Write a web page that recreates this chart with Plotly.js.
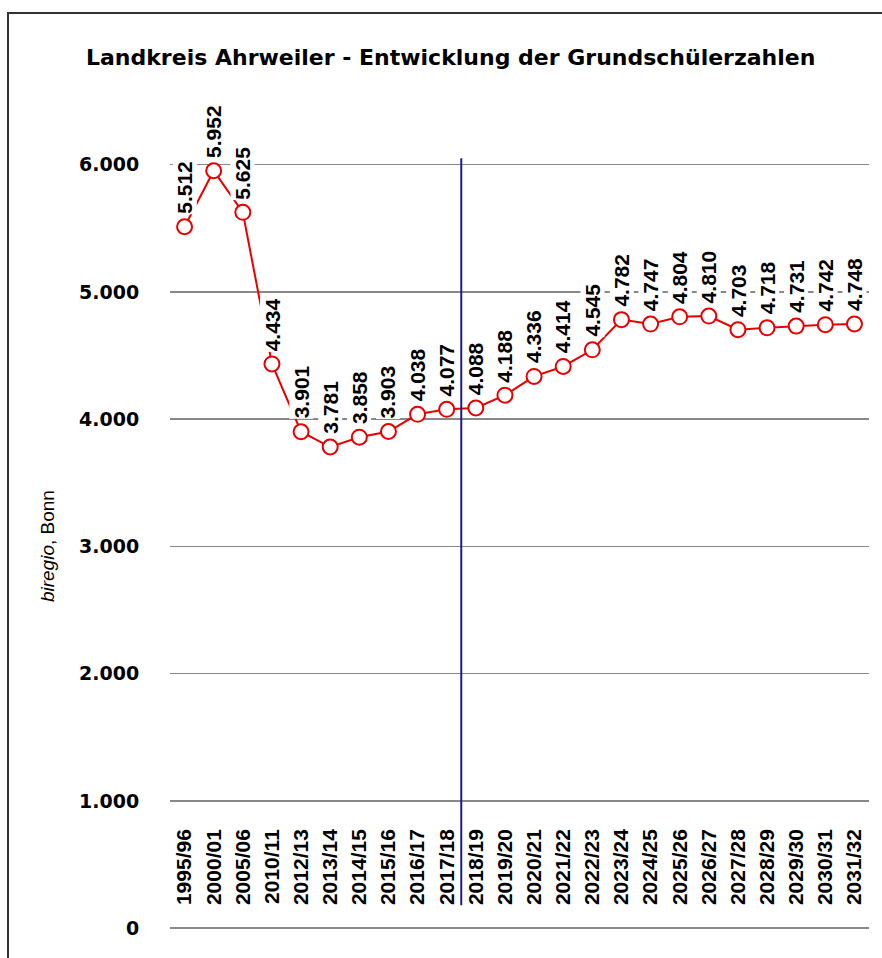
<!DOCTYPE html>
<html>
<head>
<meta charset="utf-8">
<script src="https://cdn.plot.ly/plotly-3.0.1.min.js"></script>
<style>
  html, body { margin: 0; padding: 0; background: #fff; overflow: hidden; }
  #wrap { position: relative; width: 882px; height: 958px; overflow: hidden; }
  #chart { position: absolute; left: 0; top: 0; width: 882px; height: 958px; }
  #frame { position: absolute; left: 7px; top: 12px; width: 1000px; height: 1000px;
           border: 2px solid #333; pointer-events: none; }
</style>
</head>
<body>
<div id="wrap">
  <div id="chart"></div>
  <div id="frame"></div>
</div>
<script>
const categories = ["1995/96","2000/01","2005/06","2010/11","2012/13","2013/14","2014/15","2015/16",
  "2016/17","2017/18","2018/19","2019/20","2020/21","2021/22","2022/23","2023/24","2024/25",
  "2025/26","2026/27","2027/28","2028/29","2029/30","2030/31","2031/32"];
const pupils = [5512,5952,5625,4434,3901,3781,3858,3903,4038,4077,4088,4188,4336,4414,4545,
  4782,4747,4804,4810,4703,4718,4731,4742,4748];
const yTicks = [0,1000,2000,3000,4000,5000,6000];
const titleText = "Landkreis Ahrweiler - Entwicklung der Grundschülerzahlen";
const sourceText = "<i>biregio</i>, Bonn";
const lastObservedIndex = 9; // 2017/18, forecast starts after

function fmt(v) { return String(v).replace(/\B(?=(\d{3})+(?!\d))/g, "."); }

const trace = {
  type: "scatter",
  mode: "lines+markers",
  x: categories,
  y: pupils,
  line: { color: "#e60000", width: 2 },
  marker: { symbol: "circle", size: 15, color: "#ffffff", line: { color: "#e60000", width: 2 } },
  hoverinfo: "x+y",
  cliponaxis: false
};

const annotations = pupils.map((v, i) => ({
  x: categories[i], y: v, xref: "x", yref: "y",
  text: fmt(v), showarrow: false, textangle: -90,
  xanchor: "center", yanchor: "bottom", yshift: 12,
  bgcolor: "#ffffff", borderpad: 0,
  font: { family: "Liberation Sans, Arial, sans-serif", size: 21, color: "#000", weight: "bold" }
}));

annotations.push({
  xref: "paper", yref: "y", x: -0.175, y: 3000,
  text: sourceText, showarrow: false, textangle: -90,
  xanchor: "center", yanchor: "middle",
  font: { family: "Liberation Sans, Arial, sans-serif", size: 19, color: "#000" }
});

const layout = {
  width: 882, height: 958,
  margin: { l: 170, r: 13, t: 101, b: 26 },
  paper_bgcolor: "#ffffff", plot_bgcolor: "#ffffff",
  separators: ",.",
  showlegend: false,
  title: {
    text: titleText, xref: "container", yref: "container",
    x: 0.511, y: 1 - 57/958, xanchor: "center", yanchor: "middle",
    font: { family: "DejaVu Sans, sans-serif", size: 22, color: "#000", weight: "bold" }
  },
  xaxis: {
    type: "category", range: [-0.5, categories.length - 0.5],
    anchor: "free", position: 0.130,
    showgrid: false, showline: false, zeroline: false,
    tickangle: -90, ticks: "",
    tickfont: { family: "Liberation Sans, Arial, sans-serif", size: 21, color: "#000", weight: "bold" }
  },
  yaxis: {
    range: [-30, 6500], tickvals: yTicks, tickformat: ",d",
    showgrid: true, gridcolor: "#888888", gridwidth: 1.5,
    zeroline: true, zerolinecolor: "#888888", zerolinewidth: 1.5,
    showline: false,
    ticks: "outside", ticklen: 26, tickcolor: "rgba(0,0,0,0)",
    tickfont: { family: "DejaVu Sans, sans-serif", size: 19, color: "#000", weight: "bold" }
  },
  shapes: [{
    type: "line", xref: "x", yref: "y",
    x0: lastObservedIndex + 0.5, x1: lastObservedIndex + 0.5, y0: 180, y1: 6050,
    line: { color: "#1c1c8c", width: 2 }, layer: "above"
  }],
  annotations: annotations
};

Plotly.newPlot("chart", [trace], layout, { displayModeBar: false, staticPlot: true });
</script>
</body>
</html>
